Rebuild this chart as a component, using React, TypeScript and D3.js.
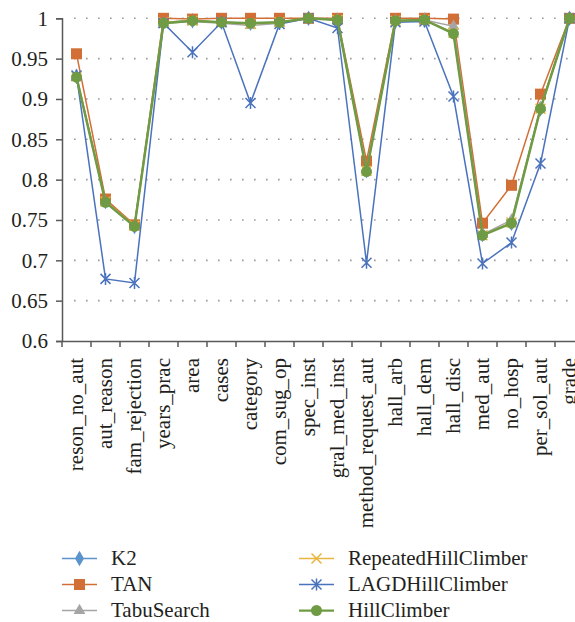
import { useEffect, useRef } from 'react';
import * as d3 from 'd3';

const categories = [
  'reson_no_aut', 'aut_reason', 'fam_rejection', 'years_prac', 'area', 'cases',
  'category', 'com_sug_op', 'spec_inst', 'gral_med_inst', 'method_request_aut',
  'hall_arb', 'hall_dem', 'hall_disc', 'med_aut', 'no_hosp', 'per_sol_aut', 'grade',
];

const k2 = [0.928, 0.773, 0.742, 0.995, 0.997, 0.995, 0.994, 0.995, 1.0, 0.998, 0.811, 0.997, 0.998, 0.982, 0.732, 0.746, 0.888, 1.0];
const tan = [0.956, 0.776, 0.744, 1.0, 0.999, 1.0, 1.0, 1.0, 1.0, 1.0, 0.823, 1.0, 1.0, 0.999, 0.746, 0.793, 0.906, 1.0];
const tabuSearch = [0.927, 0.772, 0.742, 0.994, 0.996, 0.994, 0.991, 0.994, 1.0, 0.998, 0.812, 0.997, 0.998, 0.99, 0.732, 0.75, 0.889, 1.0];
const repeatedHillClimber = [0.928, 0.773, 0.743, 0.995, 0.997, 0.995, 0.993, 0.995, 1.0, 0.998, 0.811, 0.997, 0.998, 0.982, 0.731, 0.747, 0.888, 1.0];
const lagdHillClimber = [0.929, 0.677, 0.672, 0.994, 0.958, 0.995, 0.895, 0.993, 1.0, 0.988, 0.697, 0.995, 0.996, 0.903, 0.696, 0.722, 0.82, 1.0];
const hillClimber = [0.927, 0.772, 0.742, 0.994, 0.997, 0.995, 0.994, 0.995, 1.0, 0.998, 0.81, 0.997, 0.998, 0.981, 0.731, 0.746, 0.888, 1.0];

const yTicks = [0.6, 0.65, 0.7, 0.75, 0.8, 0.85, 0.9, 0.95, 1];

type Marker = 'diamond' | 'square' | 'triangle' | 'x' | 'star' | 'circle';
interface Series { name: string; values: number[]; color: string; width: number; marker: Marker }

const series: Series[] = [
  { name: 'K2', values: k2, color: '#5b93cc', width: 1.5, marker: 'diamond' },
  { name: 'TAN', values: tan, color: '#d26f36', width: 1.5, marker: 'square' },
  { name: 'TabuSearch', values: tabuSearch, color: '#a5a5a5', width: 1.5, marker: 'triangle' },
  { name: 'RepeatedHillClimber', values: repeatedHillClimber, color: '#e9b541', width: 1.5, marker: 'x' },
  { name: 'LAGDHillClimber', values: lagdHillClimber, color: '#4a72bd', width: 1.5, marker: 'star' },
  { name: 'HillClimber', values: hillClimber, color: '#6f9b45', width: 2.5, marker: 'circle' },
];

const FONT = "'Liberation Serif', 'Times New Roman', 'DejaVu Serif', serif";
const TEXT = '#231f20';

function drawMarker(
  g: d3.Selection<SVGGElement, unknown, null, undefined>,
  type: Marker,
  x: number,
  y: number,
  color: string
) {
  if (type === 'circle') {
    g.append('circle').attr('cx', x).attr('cy', y).attr('r', 5.5).attr('fill', color);
  } else if (type === 'square') {
    g.append('rect').attr('x', x - 5.5).attr('y', y - 5.5).attr('width', 11).attr('height', 11).attr('fill', color);
  } else if (type === 'diamond') {
    g.append('path').attr('d', d3.symbol(d3.symbolDiamond, 70)()).attr('transform', `translate(${x},${y})`).attr('fill', color);
  } else if (type === 'triangle') {
    g.append('path').attr('d', d3.symbol(d3.symbolTriangle, 60)()).attr('transform', `translate(${x},${y})`).attr('fill', color);
  } else if (type === 'x') {
    g.append('path')
      .attr('d', `M${x - 5},${y - 5}L${x + 5},${y + 5}M${x - 5},${y + 5}L${x + 5},${y - 5}`)
      .attr('stroke', color).attr('stroke-width', 1.5).attr('fill', 'none');
  } else {
    g.append('path')
      .attr('d', `M${x - 5},${y - 5}L${x + 5},${y + 5}M${x - 5},${y + 5}L${x + 5},${y - 5}M${x},${y - 6}L${x},${y + 6}`)
      .attr('stroke', color).attr('stroke-width', 1.5).attr('fill', 'none');
  }
}

const Chart = () => {
  const ref = useRef<SVGSVGElement>(null);

  useEffect(() => {
    if (!ref.current) return;
    const svg = d3.select(ref.current);
    svg.selectAll('*').remove();

    const left = 62;
    const top = 18.3;
    const bottom = 341;
    const band = 29;

    const x = d3
      .scaleBand<string>()
      .domain(categories)
      .range([left, left + band * categories.length]);

    const y = d3.scaleLinear().domain([0.6, 1]).range([bottom, top]);

    // dotted grid
    svg.append('g')
      .selectAll('line')
      .data(yTicks.filter((t) => t > 0.6))
      .enter()
      .append('line')
      .attr('x1', left + 12)
      .attr('x2', 575)
      .attr('y1', (d) => y(d))
      .attr('y2', (d) => y(d))
      .attr('stroke', '#9a9a9a')
      .attr('stroke-width', 1.6)
      .attr('stroke-dasharray', '1.6,10.4');

    // y axis
    const yAxis = svg.append('g')
      .attr('transform', `translate(${left},0)`)
      .call(
        d3.axisLeft(y)
          .tickValues(yTicks)
          .tickSize(6)
          .tickPadding(8)
          .tickFormat((d) => `${+d}`)
      )
      .attr('font-family', null)
      .attr('font-size', null);
    yAxis.select('.domain').attr('stroke', '#595959').attr('stroke-width', 1.5);
    yAxis.selectAll('.tick line').attr('stroke', '#595959').attr('stroke-width', 1.5);
    yAxis.selectAll('text')
      .attr('font-family', FONT)
      .attr('font-size', 21)
      .attr('fill', TEXT);

    // x axis
    const xAxis = svg.append('g')
      .attr('transform', `translate(0,${bottom})`)
      .call(d3.axisBottom(x).tickSize(0).tickPadding(0))
      .attr('font-family', null)
      .attr('font-size', null);
    xAxis.select('.domain').attr('stroke', '#595959').attr('stroke-width', 1.5);
    xAxis.selectAll('.tick line').remove();
    xAxis.selectAll('text')
      .attr('font-family', FONT)
      .attr('font-size', 21)
      .attr('fill', TEXT)
      .attr('transform', 'rotate(-90)')
      .attr('text-anchor', 'end')
      .attr('x', -17)
      .attr('y', 0)
      .attr('dy', '0.3em');
    // ticks between categories
    xAxis.append('g')
      .selectAll('line')
      .data(d3.range(categories.length + 1))
      .enter()
      .append('line')
      .attr('x1', (i) => left + i * band)
      .attr('x2', (i) => left + i * band)
      .attr('y1', 0)
      .attr('y2', 6)
      .attr('stroke', '#595959')
      .attr('stroke-width', 1.5);

    // lines and markers
    const cx = (c: string) => x(c)! + x.bandwidth() / 2;
    series.forEach((s) => {
      const line = d3
        .line<number>()
        .x((_, i) => cx(categories[i]))
        .y((v) => y(v));
      const g = svg.append('g');
      g.append('path')
        .datum(s.values)
        .attr('fill', 'none')
        .attr('stroke', s.color)
        .attr('stroke-width', s.width)
        .attr('d', line);
      s.values.forEach((v, i) => drawMarker(g, s.marker, cx(categories[i]), y(v), s.color));
    });

    // legend
    const legend = svg.append('g');
    series.forEach((s, i) => {
      const col = Math.floor(i / 3);
      const row = i % 3;
      const lx = col === 0 ? 62 : 299;
      const ly = 558.5 + row * 26;
      const item = legend.append('g');
      item.append('line')
        .attr('x1', lx).attr('x2', lx + 35)
        .attr('y1', ly).attr('y2', ly)
        .attr('stroke', s.color)
        .attr('stroke-width', s.marker === 'circle' ? 2.25 : 1.5);
      drawMarker(item, s.marker, lx + 17.5, ly, s.color);
      item.append('text')
        .attr('x', lx + 49)
        .attr('y', ly)
        .attr('dy', '0.33em')
        .attr('font-family', FONT)
        .attr('font-size', 21)
        .attr('fill', TEXT)
        .text(s.name);
    });
  }, []);

  return (
    <svg
      ref={ref}
      width={575}
      height={622}
      fontFamily={FONT}
      style={{ display: 'block', background: '#fff', overflow: 'hidden' }}
    />
  );
};

export default function App() {
  useEffect(() => {
    document.body.style.margin = '0';
  }, []);
  return <Chart />;
}
